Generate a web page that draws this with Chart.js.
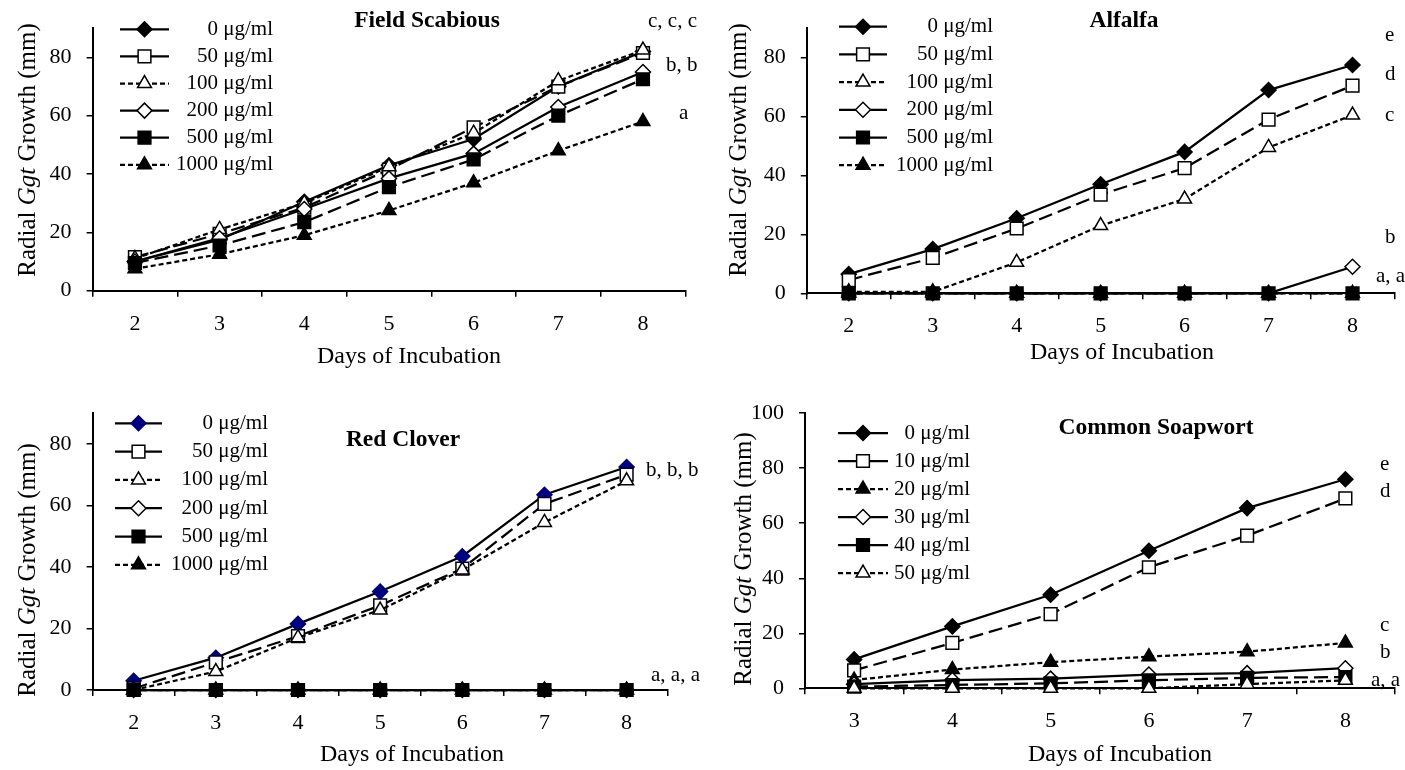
<!DOCTYPE html>
<html>
<head>
<meta charset="utf-8">
<script src="https://cdn.jsdelivr.net/npm/chart.js@4.4.1/dist/chart.umd.min.js"></script>
<style>
  body { margin: 0; background: #fff; width: 1405px; height: 770px; position: relative; overflow: hidden; }
  .panel { position: absolute; }
  canvas { display: block; }
</style>
</head>
<body>
<div class="panel" style="left:0;top:0"><canvas id="chart-scabious" width="700" height="385"></canvas></div>
<div class="panel" style="left:700px;top:0"><canvas id="chart-alfalfa" width="705" height="385"></canvas></div>
<div class="panel" style="left:0;top:385px"><canvas id="chart-clover" width="700" height="385"></canvas></div>
<div class="panel" style="left:700px;top:385px"><canvas id="chart-soapwort" width="705" height="385"></canvas></div>
<script>
// Days on the x axis
const DAYS = ["2", "3", "4", "5", "6", "7", "8"];
const DAYS_SOAP = ["3", "4", "5", "6", "7", "8"];

// Dose labels
const DOSES = ["0 μg/ml", "50 μg/ml", "100 μg/ml", "200 μg/ml", "500 μg/ml", "1000 μg/ml"];
const DOSES_SOAP = ["0 μg/ml", "10 μg/ml", "20 μg/ml", "30 μg/ml", "40 μg/ml", "50 μg/ml"];

// Field Scabious — radial Ggt growth (mm)
const scabious0    = [10, 17.5, 30.5, 43, 52, 70, 82];
const scabious50   = [11.5, 19.5, 28.5, 41.5, 56, 70, 81.5];
const scabious100  = [11, 21, 30, 42.5, 54, 72, 82.5];
const scabious200  = [10, 18, 28, 38.5, 47, 63, 75];
const scabious500  = [9.5, 15.5, 23.5, 35.5, 45, 60, 72.5];
const scabious1000 = [7.5, 12.5, 19, 27.5, 37, 48, 58];

// Alfalfa
const alfalfa0    = [6.5, 15, 25.5, 37, 48, 69, 77.5];
const alfalfa50   = [4.5, 12, 22, 33.5, 42.5, 59, 70.5];
const alfalfa100  = [0.5, 0.5, 10.5, 23, 32, 49.5, 60.5];
const alfalfa200  = [0, 0, 0, 0, 0, 0, 9];
const alfalfa500  = [0, 0, 0, 0, 0, 0, 0];
const alfalfa1000 = [0, 0, 0, 0, 0, 0, 0];

// Red Clover
const clover0    = [3, 10.5, 21.5, 32, 43.5, 63.5, 72.5];
const clover50   = [0.5, 9, 17.5, 27.5, 39.5, 60.5, 70];
const clover100  = [0, 6, 17, 26, 39, 54.5, 68];
const clover200  = [0, 0, 0, 0, 0, 0, 0];
const clover500  = [0, 0, 0, 0, 0, 0, 0];
const clover1000 = [0, 0, 0, 0, 0, 0, 0];

// Common Soapwort
const soap0  = [10.5, 22.5, 34, 50, 65.5, 76];
const soap10 = [6.5, 16.5, 27, 44, 55.5, 69];
const soap20 = [3, 6.8, 9.5, 11.5, 13.3, 16.5];
const soap30 = [1.5, 3, 3.5, 5, 5.5, 7.3];
const soap40 = [0.6, 1.2, 1.8, 2.9, 3.8, 4.1];
const soap50 = [0, 0, 0, 0, 1.5, 2.9];

const SERIF = '"Liberation Serif", "Times New Roman", serif';
const X_AXIS_H = 80;

// marker + line look for each series slot
const FILLED_DIAMOND = { pointStyle: "rectRot", radius: 7.5, fill: "#000", dash: "solid" };
const OPEN_SQUARE    = { pointStyle: "rect", radius: 9, fill: "#fff", dash: "long" };
const OPEN_TRIANGLE  = { pointStyle: "triangle", radius: 8, fill: "#fff", dash: "short" };
const OPEN_DIAMOND   = { pointStyle: "rectRot", radius: 7.5, fill: "#fff", dash: "solid" };
const FILLED_SQUARE  = { pointStyle: "rect", radius: 9, fill: "#000", dash: "long" };
const FILLED_TRI     = { pointStyle: "triangle", radius: 8, fill: "#000", dash: "short" };

const DASHES = { solid: [], long: [14, 6], short: [5, 3] };

function buildDatasets(labels, series, looks) {
  return series.map((data, i) => {
    const lk = looks[i];
    return {
      label: labels[i],
      data,
      borderColor: "#000",
      borderWidth: 2.25,
      borderDash: DASHES[lk.dash],
      pointStyle: lk.pointStyle,
      pointRadius: lk.radius,
      pointBackgroundColor: lk.fillColor || lk.fill,
      pointBorderColor: lk.edgeColor || "#000",
      pointBorderWidth: 1.5,
      tension: 0,
      clip: false,
      order: series.length - i,
      _look: lk,
    };
  });
}

function drawMarker(ctx, lk, x, y) {
  ctx.save();
  ctx.setLineDash([]);
  ctx.fillStyle = lk.fillColor || lk.fill;
  ctx.strokeStyle = lk.edgeColor || "#000";
  ctx.lineWidth = 1.5;
  if (Chart.helpers && Chart.helpers.drawPoint) {
    Chart.helpers.drawPoint(ctx, { pointStyle: lk.pointStyle, radius: lk.radius, rotation: 0, borderWidth: 1.5 }, x, y);
  }
  ctx.restore();
}

// legend, titles and significance letters
const decorPlugin = {
  id: "decor",
  afterDraw(chart) {
    const cfg = chart.options.plugins.decor;
    const ctx = chart.ctx;
    ctx.save();
    ctx.fillStyle = "#000";

    // panel title
    ctx.font = `bold 23.5px ${SERIF}`;
    ctx.textAlign = "center";
    ctx.textBaseline = "middle";
    ctx.fillText(cfg.title.text, cfg.title.x, cfg.title.y);

    // x-axis title
    ctx.font = `24px ${SERIF}`;
    ctx.fillText("Days of Incubation", cfg.xTitle.x, cfg.xTitle.y);

    // legend
    const lg = cfg.legend;
    chart.data.datasets.forEach((ds, i) => {
      const y = lg.y0 + lg.dy * i;
      const lk = ds._look;
      ctx.save();
      ctx.strokeStyle = "#000";
      ctx.lineWidth = 2.25;
      ctx.setLineDash(lk.dash === "short" ? [5, 3] : []);
      ctx.beginPath();
      ctx.moveTo(lg.x1, y);
      ctx.lineTo(lg.x2, y);
      ctx.stroke();
      ctx.restore();
      drawMarker(ctx, lk, (lg.x1 + lg.x2) / 2, y);
      ctx.fillStyle = "#000";
      ctx.font = `21px ${SERIF}`;
      ctx.textAlign = "right";
      ctx.textBaseline = "middle";
      ctx.fillText(ds.label, lg.textRight, y);
    });

    // y-axis title with italic Ggt
    const parts = [["Radial ", false], ["Ggt", true], [" Growth (mm)", false]];
    const fontFor = (it) => `${it ? "italic " : ""}25px ${SERIF}`;
    let total = 0;
    const widths = parts.map(([t, it]) => { ctx.font = fontFor(it); const w = ctx.measureText(t).width; total += w; return w; });
    ctx.translate(cfg.yTitle.x, cfg.yTitle.y);
    ctx.rotate(-Math.PI / 2);
    ctx.textAlign = "left";
    ctx.textBaseline = "middle";
    let x = -total / 2;
    parts.forEach(([t, it], k) => { ctx.font = fontFor(it); ctx.fillText(t, x, 0); x += widths[k]; });
    ctx.setTransform(1, 0, 0, 1, 0, 0);

    // significance letters
    ctx.font = `21px ${SERIF}`;
    ctx.textAlign = "left";
    ctx.textBaseline = "middle";
    cfg.notes.forEach(([t, nx, ny]) => ctx.fillText(t, nx, ny));
    ctx.restore();
  },
};

function makePanel(canvasId, days, labels, series, looks, p) {
  const canvas = document.getElementById(canvasId);
  const W = canvas.width, H = canvas.height;
  return new Chart(canvas, {
    type: "line",
    data: { labels: days, datasets: buildDatasets(labels, series, looks) },
    plugins: [decorPlugin],
    options: {
      responsive: false,
      animation: false,
      layout: {
        padding: { left: 0, top: p.plot.top, right: W - p.plot.right, bottom: H - p.plot.bottom - X_AXIS_H },
      },
      plugins: {
        legend: { display: false },
        tooltip: { enabled: false },
        decor: p,
      },
      scales: {
        x: {
          type: "category",
          offset: true,
          grid: { offset: true, drawOnChartArea: false, tickLength: 6, color: "#000", lineWidth: 1.5 },
          border: { color: "#000", width: 2 },
          ticks: { color: "#000", font: { family: SERIF, size: 22 }, padding: 14, maxRotation: 0, autoSkip: false },
          afterFit: (s) => { s.height = X_AXIS_H; },
        },
        y: {
          min: 0,
          max: p.yMax,
          grid: { drawOnChartArea: false, tickLength: 6, color: "#000", lineWidth: 1.5 },
          border: { color: "#000", width: 2 },
          ticks: { stepSize: 20, includeBounds: false, color: "#000", font: { family: SERIF, size: 22 }, padding: 15 },
          afterFit: (s) => { s.width = p.plot.left; },
        },
      },
    },
  });
}

const LOOKS = [FILLED_DIAMOND, OPEN_SQUARE, OPEN_TRIANGLE, OPEN_DIAMOND, FILLED_SQUARE, FILLED_TRI];
const LOOKS_CLOVER = [Object.assign({}, FILLED_DIAMOND, { fillColor: "#000080", edgeColor: "#000080" }),
  OPEN_SQUARE, OPEN_TRIANGLE, OPEN_DIAMOND, FILLED_SQUARE, FILLED_TRI];
const LOOKS_SOAP = [FILLED_DIAMOND, OPEN_SQUARE, FILLED_TRI, OPEN_DIAMOND, FILLED_SQUARE, OPEN_TRIANGLE];

makePanel("chart-scabious", DAYS, DOSES,
  [scabious0, scabious50, scabious100, scabious200, scabious500, scabious1000], LOOKS, {
    plot: { left: 92.6, top: 15.5, right: 685.3, bottom: 290.7 },
    yMax: 90,
    title: { text: "Field Scabious", x: 427, y: 21 },
    xTitle: { x: 409, y: 357 },
    legend: { x1: 120, x2: 169, textRight: 273, y0: 29.3, dy: 27.1 },
    yTitle: { x: 28, y: 150 },
    notes: [["c, c, c", 648, 21], ["b, b", 666, 65], ["a", 679, 113]],
  });

makePanel("chart-alfalfa", DAYS, DOSES,
  [alfalfa0, alfalfa50, alfalfa100, alfalfa200, alfalfa500, alfalfa1000], LOOKS, {
    plot: { left: 106.8, top: 12, right: 702.7, bottom: 293.3 },
    yMax: 90,
    title: { text: "Alfalfa", x: 424, y: 21 },
    xTitle: { x: 422, y: 353 },
    legend: { x1: 139, x2: 187, textRight: 293, y0: 26.7, dy: 27.7 },
    yTitle: { x: 39, y: 150 },
    notes: [["e", 685, 35], ["d", 685, 74], ["c", 685, 115], ["b", 685, 237], ["a, a", 676, 276]],
  });

makePanel("chart-clover", DAYS, DOSES,
  [clover0, clover50, clover100, clover200, clover500, clover1000], LOOKS_CLOVER, {
    plot: { left: 92.6, top: 22.6, right: 667.7, bottom: 305 },
    yMax: 90,
    title: { text: "Red Clover", x: 403, y: 55 },
    xTitle: { x: 412, y: 370 },
    legend: { x1: 115, x2: 162, textRight: 268, y0: 38.3, dy: 28.3 },
    yTitle: { x: 28, y: 185 },
    notes: [["b, b, b", 646, 85], ["a, a, a", 651, 290]],
  });

makePanel("chart-soapwort", DAYS_SOAP, DOSES_SOAP,
  [soap0, soap10, soap20, soap30, soap40, soap50], LOOKS_SOAP, {
    plot: { left: 105, top: 20, right: 697.3, bottom: 303.3 },
    yMax: 100,
    title: { text: "Common Soapwort", x: 456, y: 43 },
    xTitle: { x: 420, y: 370 },
    legend: { x1: 138, x2: 188, textRight: 270, y0: 48, dy: 28 },
    yTitle: { x: 44, y: 174 },
    notes: [["e", 680, 79], ["d", 680, 106], ["c", 680, 240], ["b", 680, 267], ["a, a", 671, 295]],
  });
</script>
</body>
</html>
